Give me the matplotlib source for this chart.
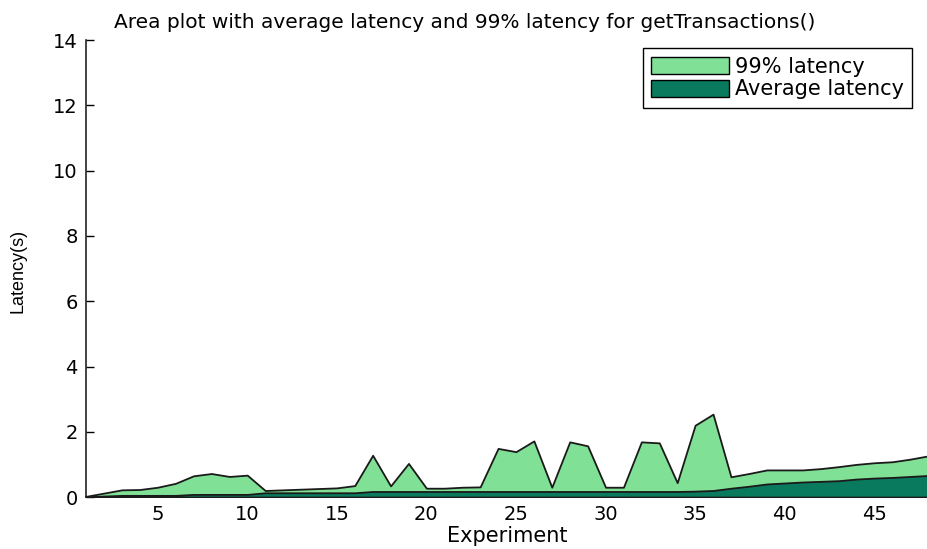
import matplotlib
matplotlib.use("Agg")
import matplotlib.pyplot as plt
from matplotlib.patches import Patch
import numpy as np

# experiment index and latencies (seconds)
experiments = np.arange(1, 49)
p99_latency = [0.02, 0.12, 0.22, 0.23, 0.30, 0.42, 0.65, 0.72, 0.63, 0.67,
               0.20, 0.22, 0.24, 0.26, 0.28, 0.35, 1.28, 0.34, 1.03, 0.27,
               0.27, 0.30, 0.31, 1.49, 1.39, 1.72, 0.30, 1.69, 1.57, 0.30,
               0.30, 1.69, 1.66, 0.44, 2.20, 2.54, 0.62, 0.72, 0.83, 0.83,
               0.83, 0.87, 0.93, 1.00, 1.05, 1.08, 1.16, 1.26]
avg_latency = [0.00, 0.03, 0.05, 0.05, 0.05, 0.05, 0.08, 0.08, 0.08, 0.08,
               0.13, 0.13, 0.13, 0.13, 0.13, 0.13, 0.17, 0.17, 0.17, 0.17,
               0.17, 0.17, 0.17, 0.17, 0.17, 0.17, 0.17, 0.17, 0.17, 0.17,
               0.17, 0.17, 0.17, 0.17, 0.18, 0.20, 0.27, 0.33, 0.40, 0.43,
               0.46, 0.48, 0.50, 0.55, 0.58, 0.60, 0.63, 0.66]
series_labels = ["99% latency", "Average latency"]
x_ticks = [5, 10, 15, 20, 25, 30, 35, 40, 45]
y_ticks = [0, 2, 4, 6, 8, 10, 12, 14]

light = "#80e196"
dark = "#0a7a5e"

plt.rcParams["font.family"] = ["DejaVu Sans"]

fig = plt.figure(figsize=(9.28, 5.49), dpi=100)
ax = fig.add_axes([0.0927, 0.0947, 0.9073, 0.832])

ax.fill_between(experiments, 0, p99_latency, facecolor=light,
                edgecolor="#1a1a1a", linewidth=1.3, zorder=2)
ax.fill_between(experiments, 0, avg_latency, facecolor=dark,
                edgecolor="#1a1a1a", linewidth=1.3, zorder=3)

ax.set_xlim(1, 48)
ax.set_ylim(0, 14)
ax.set_xticks(x_ticks)
ax.set_yticks(y_ticks)
ax.tick_params(direction="in", length=6, width=1, labelsize=14, pad=6)
ax.spines["top"].set_visible(False)
ax.spines["right"].set_visible(False)
for s in ("left", "bottom"):
    ax.spines[s].set_linewidth(1.2)
    ax.spines[s].set_color("#222222")

ax.set_title("Area plot with average latency and 99% latency for getTransactions()",
             fontsize=14.5, x=0.45, pad=9)
ax.set_xlabel("Experiment", fontsize=15, labelpad=1)
ax.set_ylabel("Latency(s)", fontsize=13, family="Liberation Sans")
ax.yaxis.set_label_coords(-0.071, 0.495)

handles = [Patch(facecolor=light, edgecolor="black", linewidth=1),
           Patch(facecolor=dark, edgecolor="black", linewidth=1)]
leg = ax.legend(handles, series_labels, loc="upper right",
                bbox_to_anchor=(0.981, 0.982), fontsize=15, fancybox=False,
                framealpha=1, edgecolor="black", handlelength=3.75,
                handleheight=0.87, handletextpad=0.25, labelspacing=0.12,
                borderpad=0.4, borderaxespad=0)
leg.get_frame().set_linewidth(1)

fig.savefig("out.png", dpi=100)
